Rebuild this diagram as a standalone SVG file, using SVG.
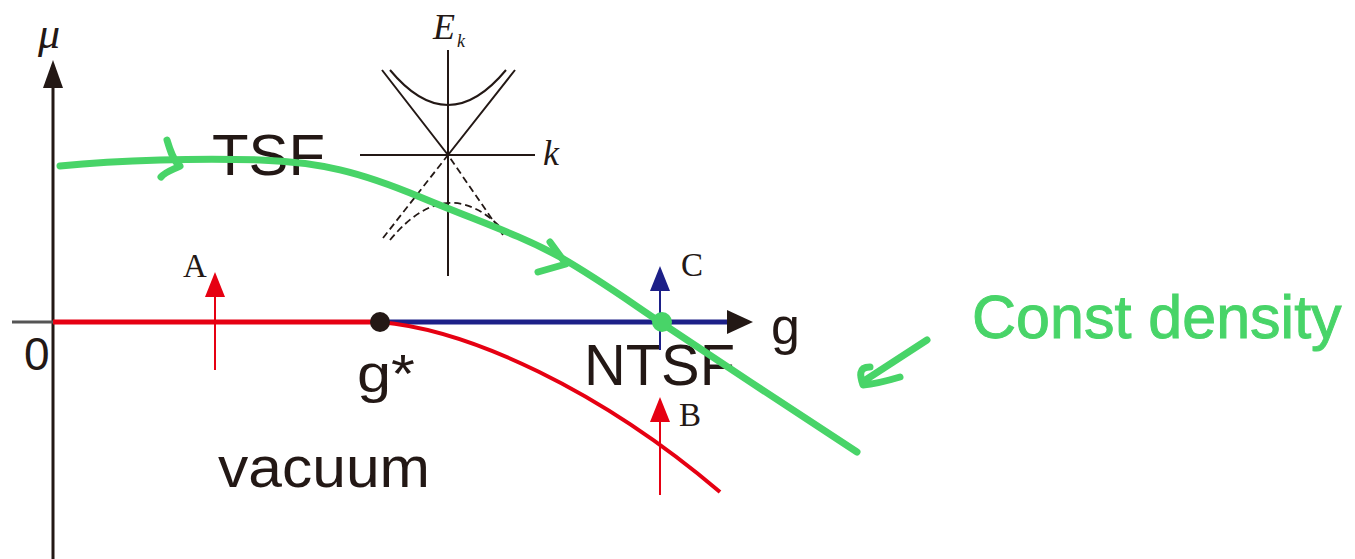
<svg xmlns="http://www.w3.org/2000/svg" width="1355" height="559" viewBox="0 0 1355 559">
<style>
.sans{font-family:"Liberation Sans",Arial,sans-serif;fill:#231815}
.serif{font-family:"Liberation Serif","Times New Roman",serif;fill:#231815}
.ax{stroke:#231815;stroke-width:3;fill:none}
.thin{stroke:#231815;stroke-width:2;fill:none}
.dash{stroke:#231815;stroke-width:1.8;fill:none;stroke-dasharray:7 4}
.red{stroke:#E60012;fill:none}
.blue{stroke:#1D2088;fill:none}
.green{stroke:#48D468;fill:none;stroke-linecap:round;stroke-linejoin:round}
</style>
<rect width="1355" height="559" fill="#fff"/>
<g id="axes">
<line class="ax" x1="53" y1="559" x2="53" y2="85"/>
<path d="M53,60 L63,88 L43,88 Z" fill="#231815"/>
<line x1="12" y1="322" x2="53" y2="322" stroke="#555" stroke-width="3"/>
<text class="serif" x="38" y="48" font-size="44" font-style="italic">μ</text>
<text class="sans" x="24" y="370" font-size="46">0</text>
<text class="sans" x="771" y="344" font-size="52">g</text>
</g>
<g id="phase-lines">
<line class="red" x1="53" y1="322" x2="380" y2="322" stroke-width="5"/>
<line class="blue" x1="380" y1="322" x2="732" y2="322" stroke-width="5"/>
<path d="M753,322 L727,310 L727,334 Z" fill="#231815"/>
<path class="red" d="M380,322 C470,330 600,390 720,492" stroke-width="4"/>
<circle cx="380" cy="322" r="10" fill="#231815"/>
<text class="sans" x="357" y="392" font-size="54" textLength="58" lengthAdjust="spacingAndGlyphs">g*</text>
</g>
<g id="labels">
<text class="sans" x="212" y="175" font-size="57" textLength="113" lengthAdjust="spacingAndGlyphs">TSF</text>
<text class="sans" x="584" y="385" font-size="57" textLength="151" lengthAdjust="spacingAndGlyphs">NTSF</text>
<text class="sans" x="218" y="487" font-size="58" textLength="212" lengthAdjust="spacingAndGlyphs">vacuum</text>
</g>
<g id="arrowA">
<line class="red" x1="215" y1="370" x2="215" y2="290" stroke-width="2"/>
<path d="M215,272 L225,297 L205,297 Z" fill="#E60012"/>
<text class="serif" x="183" y="277" font-size="33">A</text>
</g>
<g id="arrowB">
<line class="red" x1="660" y1="495" x2="660" y2="415" stroke-width="2"/>
<path d="M660,397 L670,422 L650,422 Z" fill="#E60012"/>
<text class="serif" x="679" y="426" font-size="33">B</text>
</g>
<g id="arrowC">
<line class="blue" x1="660" y1="350" x2="660" y2="285" stroke-width="2"/>
<path d="M660,266 L670,291 L650,291 Z" fill="#1D2088"/>
<text class="serif" x="681" y="276" font-size="33">C</text>
</g>
<g id="inset">
<line class="thin" x1="448" y1="50" x2="448" y2="276"/>
<line class="thin" x1="360" y1="155" x2="535" y2="155"/>
<text class="serif" x="433" y="39" font-size="36" font-style="italic">E</text>
<text class="serif" x="457" y="47" font-size="18" font-style="italic">k</text>
<text class="serif" x="543" y="165" font-size="36" font-style="italic">k</text>
<path class="thin" d="M382,70 L448,155 L515,70"/>
<path class="thin" d="M390,70 Q448,140 506,70"/>
<path class="dash" d="M383,238 L448,155 L503,235"/>
<path class="dash" d="M390,240 Q448,170 505,232"/>
</g>
<g id="connectors">
<path class="green" d="M60,166 C120,160 200,158 260,160 C320,162 360,172 420,197 C480,222 520,235 560,257 C600,280 630,302 660,322 C720,362 800,415 857,452" stroke-width="7"/>
<path class="green" d="M167,140 C170,150 172,157 178,165 M180,166 C172,170 165,172 161,177" stroke-width="7"/>
<path class="green" d="M550,242 L566,264 L538,272" stroke-width="7"/>
<circle cx="662" cy="322" r="10" fill="#48D468"/>
<path class="green" d="M927,340 L867,379 M870,367 C858,367 860,376 863,385 C876,384 890,380 900,377" stroke-width="7"/>
</g>
<g id="note">
<text x="972" y="338" font-size="61" font-family="'Liberation Sans',Arial,sans-serif" fill="#48D468" stroke="#48D468" stroke-width="1">Const density</text>
</g>
</svg>
